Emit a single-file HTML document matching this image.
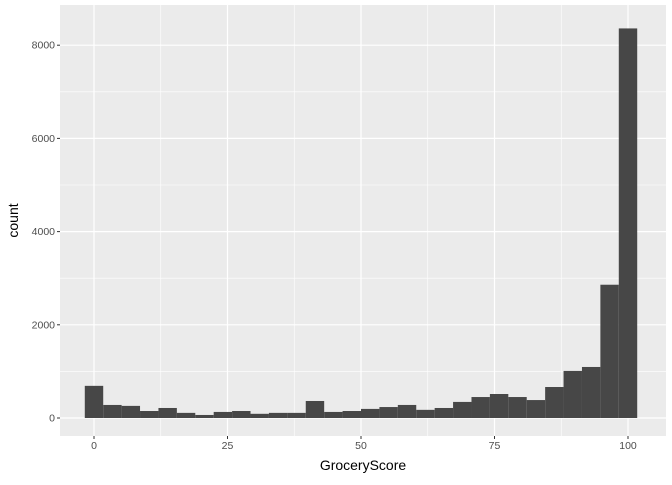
<!DOCTYPE html>
<html><head><meta charset="utf-8"><style>
body{margin:0;background:#fff;font-family:"Liberation Sans",sans-serif}
</style></head><body>
<svg id="chart" width="672" height="480" xmlns="http://www.w3.org/2000/svg"></svg>
<script>
const counts=[690,280,260,150,215,110,65,130,150,90,110,110,365,130,150,195,235,280,175,215,345,450,515,450,385,665,1010,1095,2860,8360];
const xTicks=[0,25,50,75,100];
const yTicks=[0,2000,4000,6000,8000];
const binWidth=100/29;
const NS="http://www.w3.org/2000/svg";
const svg=document.getElementById('chart');
const pl=60,pr=666,pt=5,pb=436;
const x=v=>94+v*5.34;
const y=v=>418-v*93.2/2000;
function el(t,a,p){const e=document.createElementNS(NS,t);for(const k in a)e.setAttribute(k,a[k]);(p||svg).appendChild(e);return e;}
const panel=el('rect',{x:pl,y:pt,width:pr-pl,height:pb-pt,fill:'#ebebeb'});


// minor grid
for(let i=0;i<xTicks.length-1;i++){const m=(xTicks[i]+xTicks[i+1])/2;el('line',{x1:x(m),x2:x(m),y1:pt,y2:pb,stroke:'#fff','stroke-width':0.6});}
for(let i=0;i<yTicks.length;i++){const m=yTicks[i]+1000;if(y(m)>pt)el('line',{x1:pl,x2:pr,y1:y(m),y2:y(m),stroke:'#fff','stroke-width':0.6});}
el('line',{x1:pl,x2:pr,y1:y(-1000),y2:y(-1000),stroke:'#fff','stroke-width':0.6});
xTicks.forEach(t=>{
 const g=el('line',{x1:x(t),x2:x(t),y1:pt,y2:pb,stroke:'#fff','stroke-width':1.2});
 
 
 el('line',{x1:x(t),x2:x(t),y1:pb,y2:pb+3,stroke:'#333'});
 const tx=el('text',{x:x(t),y:pb+13,'font-size':'10.5','text-anchor':'middle',fill:'#4d4d4d'});tx.textContent=t;
 
 
});
yTicks.forEach(t=>{
 const g=el('line',{x1:pl,x2:pr,y1:y(t),y2:y(t),stroke:'#fff','stroke-width':1.2});
 
 
 el('line',{x1:pl-3,x2:pl,y1:y(t),y2:y(t),stroke:'#333'});
 const tx=el('text',{x:pl-5,y:y(t)+3.5,'font-size':'10.5','text-anchor':'end',fill:'#4d4d4d'});tx.textContent=t;
 
 
});
counts.forEach((c,i)=>{
 const c0=i*binWidth-binWidth/2,c1=c0+binWidth;
 const r=el('rect',{x:x(c0),y:y(c),width:x(c1)-x(c0),height:y(0)-y(c),fill:'#474747'});
 
 
});
const xt=el('text',{x:(pl+pr)/2,y:470,'font-size':'14','text-anchor':'middle',fill:'#000'});xt.textContent='GroceryScore';


const yt=el('text',{x:0,y:0,'font-size':'14','text-anchor':'middle',fill:'#000',transform:`translate(18,${(pt+pb)/2}) rotate(-90)`});yt.textContent='count';


</script>
</body></html>
